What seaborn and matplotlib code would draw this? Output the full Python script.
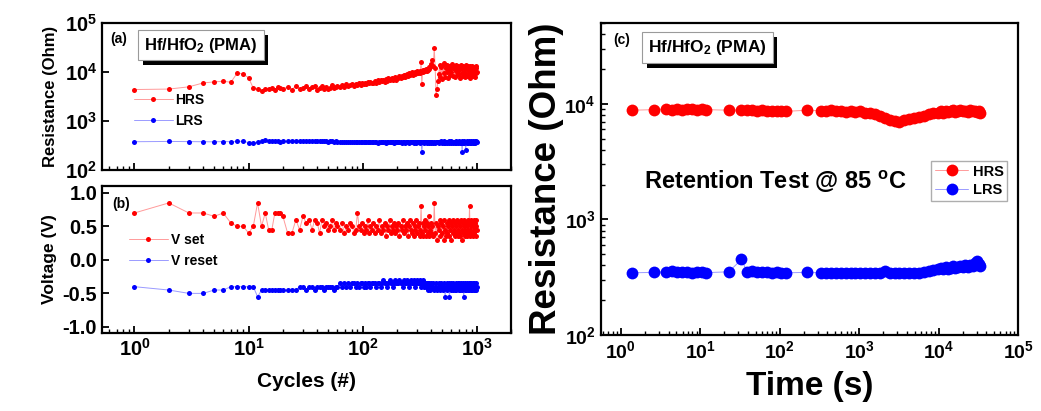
import matplotlib
matplotlib.use("Agg")
import matplotlib.pyplot as plt
import matplotlib.ticker as mticker
import matplotlib.patheffects as pe
import seaborn as sns

# ---------------- data: endurance (panels a, b) ----------------
cycles = [*range(1, 21), *range(22, 61, 2), *range(63, 121, 3),
          *range(124, 201, 4), *range(205, 401, 5), *range(408, 1001, 8)]

hrs_kohm = [
    4.4, 4.5, 5.0, 6.0, 6.3, 6.5, 6.2, 9.7, 9.0, 7.7, 4.7, 4.5, 4.2, 4.6, 4.5, 4.8, 4.4, 5.0, 4.7, 4.6,
    4.9, 4.4, 5.2, 4.6, 4.8, 5.3, 4.5, 4.9, 5.1, 4.4, 4.7, 5.2, 4.6, 5.0, 4.5, 4.8, 5.4, 4.7, 5.0, 5.3,
    4.9, 5.4, 5.0, 5.6, 5.1, 5.5, 5.8, 5.2, 5.7, 5.4, 6.0, 5.5, 5.9, 5.6, 6.1, 5.8, 6.3, 5.9, 6.2, 6.0,
    6.1, 6.6, 5.9, 6.8, 6.3, 7.0, 6.5, 6.9, 6.4, 7.2, 6.7, 7.4, 6.8, 7.1, 7.6, 6.9, 7.3, 7.8, 7.0, 7.5,
    7.6, 8.2, 7.4, 8.5, 7.9, 8.8, 8.0, 8.6, 9.1, 8.3, 9.4, 8.7, 9.0, 9.8, 8.9, 9.3, 10.2, 9.1, 9.6, 10.5,
    9.4, 9.9, 10.4, 9.7, 16.0, 5.6, 10.8, 9.9, 11.2, 10.3, 10.9, 11.5, 10.6, 11.8, 10.8, 12.5, 11.3, 12.9, 14.5, 13.7,
    18.0, 13.0, 31.0, 12.0, 3.4, 4.5, 6.5, 9.0, 14.0, 8.0,
    12.5, 7.2, 13.8, 9.5, 15.0, 8.1, 12.0, 10.2, 14.2, 7.6,
    11.4, 13.5, 8.8, 12.8, 9.9, 14.8, 8.3, 11.9, 13.1, 7.9,
    12.2, 10.5, 14.0, 8.6, 11.1, 13.6, 9.2, 12.6, 7.4, 11.8,
    13.9, 9.6, 12.3, 8.4, 13.2, 10.1, 12.9, 7.8, 11.5, 13.7,
    9.0, 12.4, 8.2, 11.0, 13.4, 9.4, 12.1, 7.7, 11.6, 13.0,
    8.9, 12.7, 10.3, 13.5, 8.5, 11.3, 12.8, 9.1, 12.0, 7.9,
    11.7, 13.3, 9.5, 12.2, 10.0,
]

lrs_ohm = [
    380, 385, 382, 380, 378, 383, 380, 385, 388, 365, 362, 370, 400, 405, 395, 390, 385, 388, 382, 386,
    392, 388, 395, 385, 390, 398, 386, 392, 395, 388, 384, 390, 396, 385, 380, 388, 392, 382, 386, 380,
    376, 382, 374, 379, 372, 380, 375, 370, 378, 373, 381, 371, 376, 369, 377, 372, 380, 370, 375, 368,
    374, 369, 378, 366, 373, 371, 380, 368, 375, 364, 372, 377, 367, 374, 370, 379, 365, 372, 376, 369,
    373, 367, 378, 364, 371, 376, 366, 374, 369, 380, 365, 372, 377, 368, 375, 363, 371, 378, 366, 374,
    369, 376, 364, 372, 379, 235, 368, 375, 366, 373, 370, 380, 364, 371, 377, 366, 374, 369, 376, 365,
    372, 366, 378, 360, 375, 368, 382, 362, 374, 369,
    385, 358, 377, 366, 390, 362, 375, 380, 356, 372,
    386, 364, 378, 360, 392, 368, 374, 357, 383, 370,
    362, 388, 366, 376, 355, 381, 369, 392, 361, 374,
    366, 384, 236, 378, 363, 389, 358, 372, 380, 252,
    375, 365, 390, 360, 377, 369, 386, 357, 373, 382,
    364, 391, 368, 376, 359, 385, 370, 378, 362, 389,
    366, 380, 371, 387, 369,
]

v_set = [
    0.70, 0.85, 0.70, 0.70, 0.65, 0.70, 0.55, 0.50, 0.50, 0.40, 0.50, 0.85, 0.50, 0.70, 0.45, 0.45, 0.70, 0.70, 0.70, 0.65,
    0.40, 0.40, 0.60, 0.45, 0.65, 0.55, 0.60, 0.45, 0.60, 0.55, 0.40, 0.60, 0.50, 0.55, 0.45, 0.50, 0.60, 0.45, 0.55, 0.50,
    0.45, 0.55, 0.40, 0.50, 0.45, 0.55, 0.50, 0.40, 0.45, 0.70, 0.50, 0.45, 0.55, 0.40, 0.50, 0.45, 0.60, 0.40, 0.50, 0.45,
    0.55, 0.40, 0.50, 0.45, 0.60, 0.40, 0.50, 0.45, 0.55, 0.35, 0.50, 0.45, 0.60, 0.40, 0.50, 0.45, 0.55, 0.40, 0.50, 0.45,
    0.55, 0.35, 0.50, 0.45, 0.60, 0.40, 0.50, 0.45, 0.55, 0.35, 0.50, 0.60, 0.45, 0.40, 0.55, 0.35, 0.50, 0.45, 0.60, 0.40,
    0.50, 0.55, 0.35, 0.45, 0.80, 0.40, 0.55, 0.35, 0.50, 0.60, 0.45, 0.35, 0.55, 0.40, 0.50, 0.65, 0.35, 0.45, 0.55, 0.40,
    0.50, 0.35, 0.85, 0.40, 0.55, 0.30, 0.50, 0.45, 0.60, 0.35,
    0.55, 0.40, 0.50, 0.30, 0.60, 0.45, 0.35, 0.55, 0.40, 0.50,
    0.60, 0.35, 0.45, 0.55, 0.30, 0.50, 0.40, 0.60, 0.45, 0.35,
    0.55, 0.40, 0.50, 0.60, 0.35, 0.45, 0.55, 0.40, 0.50, 0.35,
    0.60, 0.45, 0.30, 0.55, 0.40, 0.50, 0.60, 0.35, 0.45, 0.55,
    0.40, 0.50, 0.35, 0.60, 0.45, 0.40, 0.55, 0.80, 0.45, 0.35,
    0.50, 0.60, 0.40, 0.55, 0.35, 0.50, 0.45, 0.60, 0.40, 0.55,
    0.45, 0.35, 0.50, 0.60, 0.45,
]

v_reset = [
    -0.40, -0.45, -0.50, -0.50, -0.45, -0.45, -0.40, -0.40, -0.40, -0.40, -0.40, -0.55, -0.45, -0.45, -0.45, -0.45, -0.45, -0.45, -0.45, -0.45,
    -0.45, -0.45, -0.45, -0.40, -0.40, -0.45, -0.40, -0.40, -0.45, -0.40, -0.40, -0.40, -0.45, -0.40, -0.40, -0.40, -0.40, -0.45, -0.40, -0.40,
    -0.35, -0.40, -0.35, -0.40, -0.35, -0.40, -0.35, -0.35, -0.40, -0.35, -0.40, -0.35, -0.35, -0.40, -0.35, -0.40, -0.35, -0.35, -0.40, -0.35,
    -0.35, -0.35, -0.40, -0.35, -0.35, -0.40, -0.35, -0.30, -0.35, -0.35, -0.40, -0.35, -0.30, -0.35, -0.35, -0.40, -0.35, -0.30, -0.35, -0.35,
    -0.35, -0.30, -0.35, -0.35, -0.40, -0.30, -0.35, -0.35, -0.30, -0.35, -0.40, -0.35, -0.30, -0.35, -0.35, -0.30, -0.35, -0.40, -0.35, -0.30,
    -0.35, -0.35, -0.30, -0.35, -0.40, -0.35, -0.30, -0.35, -0.40, -0.35, -0.35, -0.40, -0.35, -0.45, -0.35, -0.40, -0.35, -0.45, -0.40, -0.35,
    -0.40, -0.35, -0.45, -0.40, -0.35, -0.45, -0.40, -0.35, -0.40, -0.45,
    -0.35, -0.40, -0.45, -0.35, -0.40, -0.55, -0.40, -0.35, -0.45, -0.40,
    -0.35, -0.55, -0.40, -0.45, -0.35, -0.40, -0.45, -0.35, -0.40, -0.45,
    -0.40, -0.35, -0.45, -0.40, -0.35, -0.40, -0.45, -0.35, -0.40, -0.45,
    -0.35, -0.40, -0.45, -0.40, -0.35, -0.55, -0.40, -0.45, -0.35, -0.40,
    -0.45, -0.35, -0.40, -0.45, -0.40, -0.35, -0.45, -0.40, -0.35, -0.40,
    -0.45, -0.35, -0.40, -0.45, -0.40, -0.35, -0.45, -0.40, -0.35, -0.40,
    -0.45, -0.40, -0.35, -0.45, -0.40,
]

# ---------------- data: retention at 85 C (panel c) ----------------
ret_time_s = [
    1.4, 2.6, 3.7, 4.4, 5.1, 5.9, 6.8, 7.9, 9.0, 10.5, 12,
    23, 33, 39, 45, 52, 60, 70, 80, 92, 105, 120,
    220, 330,
    380, 440, 510, 590, 680, 780, 900, 1040, 1200, 1380,
    1590, 1830, 2100, 2420, 2790, 3210, 3700, 4260, 4900, 5650,
    6500, 7490, 8620, 9930,
    10700, 11400, 12300, 13200, 14200, 15200, 16300, 17500, 18800, 20100,
    21600, 23200, 24900, 26700, 28600, 30700, 32000, 33000,
]
ret_hrs_kohm = [
    8.8, 8.9, 9.0, 8.9, 9.0, 8.9, 9.0, 9.1, 8.9, 9.0, 8.9,
    8.8, 8.8, 8.9, 8.8, 8.7, 8.8, 8.6, 8.7, 8.6, 8.7, 8.6,
    8.8, 8.7,
    8.7, 8.8, 8.6, 8.7, 8.5, 8.6, 8.5, 8.6, 8.4, 8.3,
    8.1, 7.9, 7.6, 7.3, 7.1, 7.0, 7.2, 7.4, 7.6, 7.7,
    7.9, 8.2, 8.4, 8.3,
    8.6, 8.4, 8.7, 8.5, 8.6, 8.8, 8.5, 8.7, 8.9, 8.6,
    8.7, 8.5, 8.8, 8.6, 8.7, 8.5, 8.6, 8.4,
]
ret_lrs_ohm = [
    345, 348, 350, 356, 352, 349, 351, 347, 350, 348, 346,
    352, 450, 352, 358, 354, 350, 348, 346, 349, 347, 345,
    348, 345,
    344, 346, 343, 345, 344, 347, 343, 345, 344, 346,
    343, 345, 355, 344, 346, 343, 345, 347, 344, 346,
    352, 360, 368, 372,
    378, 370, 385, 375, 382, 392, 380, 388, 395, 384,
    400, 390, 405, 395, 420, 440, 410, 395,
]

hrs_ohm = [v * 1000 for v in hrs_kohm]
ret_hrs_ohm = [v * 1000 for v in ret_hrs_kohm]

# ---------------- style ----------------
sns.set_theme(style="ticks")
plt.rcParams.update({
    "font.family": ["Liberation Sans", "DejaVu Sans"],
    "font.weight": "bold",
    "axes.labelweight": "bold",
    "mathtext.fontset": "custom",
    "mathtext.rm": "Liberation Sans:bold",
    "mathtext.it": "Liberation Sans:bold",
    "mathtext.bf": "Liberation Sans:bold",
    "mathtext.default": "rm",
    "axes.linewidth": 1.6,
    "axes.edgecolor": "black",
    "xtick.direction": "in",
    "ytick.direction": "in",
    "xtick.major.width": 1.3,
    "ytick.major.width": 1.3,
    "xtick.minor.width": 1.0,
    "ytick.minor.width": 1.0,
    "xtick.major.size": 5,
    "ytick.major.size": 5,
    "xtick.minor.size": 3,
    "ytick.minor.size": 3,
    "xtick.color": "black",
    "ytick.color": "black",
    "axes.labelcolor": "black",
    "text.color": "black",
})

RED, RED_LINE = "#ff0000", "#ff9a9a"
BLUE, BLUE_LINE = "#0000ff", "#9a9aff"

fig = plt.figure(figsize=(10.41, 4.11), dpi=100)
ax_a = fig.add_axes([0.098, 0.586, 0.393, 0.358])
ax_b = fig.add_axes([0.098, 0.190, 0.393, 0.357])
ax_c = fig.add_axes([0.577, 0.185, 0.401, 0.759])


def series(ax, x, y, line_c, mark_c, label, ms, lw):
    sns.lineplot(x=x, y=y, ax=ax, color=line_c, lw=lw, marker="o",
                 markersize=ms, mfc=mark_c, mec=mark_c, mew=0,
                 label=label, estimator=None, sort=False)


def decades(axis):
    # one labelled major tick per decade, plus the usual minor ticks
    axis.set_major_locator(mticker.LogLocator(base=10, numticks=12))
    axis.set_minor_locator(mticker.LogLocator(base=10, subs=range(2, 10), numticks=12))
    axis.set_minor_formatter(mticker.NullFormatter())


def tag_box(ax, x, y, size):
    # sample label in a white box with a solid black drop shadow
    t = ax.text(x, y, r"Hf/HfO$_2$ (PMA)", transform=ax.transAxes,
                ha="left", va="top", fontsize=size, color="black", zorder=9,
                bbox=dict(boxstyle="square,pad=0.35", fc="white", ec="#9a9a9a", lw=0.8))
    t.get_bbox_patch().set_path_effects([
        pe.SimplePatchShadow(offset=(3.5, -3.5), shadow_rgbFace="black", alpha=1.0),
        pe.Normal(),
    ])


# ---- (a) resistance vs cycles ----
series(ax_a, cycles, hrs_ohm, RED_LINE, RED, "HRS", 3.6, 0.7)
series(ax_a, cycles, lrs_ohm, BLUE_LINE, BLUE, "LRS", 3.6, 0.7)
ax_a.set_xscale("log")
ax_a.set_yscale("log")
ax_a.set_xlim(0.52, 2000)
ax_a.set_ylim(100, 1e5)
decades(ax_a.xaxis)
ax_a.yaxis.set_major_locator(mticker.LogLocator(base=10, numticks=12))
ax_a.yaxis.set_minor_locator(mticker.NullLocator())
ax_a.tick_params(axis="x", labelbottom=False)
ax_a.set_xlabel("")
ax_a.set_ylabel("Resistance (Ohm)", fontsize=12, labelpad=5)
ax_a.text(0.02, 0.94, "(a)", transform=ax_a.transAxes, fontsize=10, va="top")
tag_box(ax_a, 0.103, 0.915, 12)
ax_a.legend(loc="upper left", bbox_to_anchor=(0.078, 0.525), frameon=False,
            fontsize=10, handlelength=2.8, handletextpad=0.2, labelspacing=0.5,
            borderpad=0, borderaxespad=0)

# ---- (b) switching voltages vs cycles ----
series(ax_b, cycles, v_set, RED_LINE, RED, "V set", 3.6, 0.7)
series(ax_b, cycles, v_reset, BLUE_LINE, BLUE, "V reset", 3.6, 0.7)
ax_b.set_xscale("log")
ax_b.set_xlim(0.52, 2000)
decades(ax_b.xaxis)
ax_b.set_ylim(-1.09, 1.1)
ax_b.yaxis.set_major_locator(mticker.MultipleLocator(0.5))
ax_b.yaxis.set_major_formatter(mticker.FormatStrFormatter("%.1f"))
ax_b.set_xlabel("Cycles (#)", fontsize=15, labelpad=9)
ax_b.set_ylabel("Voltage (V)", fontsize=12.5, labelpad=4)
ax_b.text(0.024, 0.925, "(b)", transform=ax_b.transAxes, fontsize=10, va="top")
ax_b.legend(loc="upper left", bbox_to_anchor=(0.066, 0.68), frameon=False,
            fontsize=10, handlelength=2.8, handletextpad=0.2, labelspacing=0.5,
            borderpad=0, borderaxespad=0)

for ax in (ax_a, ax_b):
    ax.tick_params(axis="both", which="major", labelsize=14.5)
    ax.tick_params(which="both", top=False, right=False)

# ---- (c) retention at 85 C ----
series(ax_c, ret_time_s, ret_hrs_ohm, RED_LINE, RED, "HRS", 8.5, 0.7)
series(ax_c, ret_time_s, ret_lrs_ohm, BLUE_LINE, BLUE, "LRS", 8.5, 0.7)
ax_c.set_xscale("log")
ax_c.set_yscale("log")
ax_c.set_xlim(0.56, 1e5)
ax_c.set_ylim(100, 5e4)
decades(ax_c.xaxis)
decades(ax_c.yaxis)
ax_c.tick_params(axis="both", which="major", labelsize=14)
ax_c.tick_params(which="both", top=False, right=False)
ax_c.set_xlabel("Time (s)", fontsize=24, labelpad=7)
ax_c.set_ylabel("Resistance (Ohm)", fontsize=26.5, labelpad=0)
ax_c.text(0.029, 0.968, "(c)", transform=ax_c.transAxes, fontsize=10, va="top")
tag_box(ax_c, 0.113, 0.952, 12.5)
ax_c.text(0.105, 0.49, r"Retention Test @ 85 $^{o}$C", transform=ax_c.transAxes,
          fontsize=17, va="center", ha="left")
leg = ax_c.legend(loc="upper right", bbox_to_anchor=(0.974, 0.558), frameon=True,
                  fancybox=False, fontsize=10.5, handlelength=2.3,
                  handletextpad=0.3, labelspacing=0.3, borderpad=0.25,
                  borderaxespad=0)
leg.get_frame().set_edgecolor("#9a9a9a")
leg.get_frame().set_linewidth(1.0)

fig.savefig("out.png", dpi=100, facecolor="white")
